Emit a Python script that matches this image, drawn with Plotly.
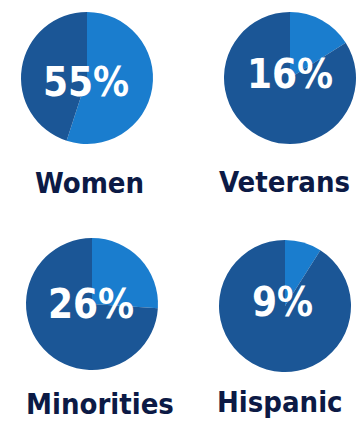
import plotly.graph_objects as go

categories = ["Women", "Veterans", "Minorities", "Hispanic"]
percents = [55, 16, 26, 9]
pct_labels = ["55%", "16%", "26%", "9%"]

LIGHT = "#1a7dce"
DARK = "#1b5696"
NAVY = "#0c1a45"
W, H = 360, 423
FONT = "DejaVu Sans Condensed, Liberation Sans Narrow, Roboto, sans-serif"

# pie centers and radius in pixels (layout)
centers = [(87, 78), (290, 78), (92, 304), (285, 306)]
R = 66
text_centers = [(86, 82), (290, 74), (91, 304), (282, 302)]
label_centers = [(89, 183), (284, 182), (100, 404), (280, 402)]

fig = go.Figure()
for i, (cat, p) in enumerate(zip(categories, percents)):
    cx, cy = centers[i]
    fig.add_trace(go.Pie(
        values=[p, 100 - p],
        labels=[cat, "Other"],
        sort=False,
        direction="clockwise",
        rotation=0,
        marker=dict(colors=[LIGHT, DARK], line=dict(width=0)),
        textinfo="none",
        hoverinfo="skip",
        showlegend=False,
        domain=dict(x=[(cx - R) / W, (cx + R) / W],
                    y=[(H - cy - R) / H, (H - cy + R) / H]),
    ))
    tx, ty = text_centers[i]
    fig.add_annotation(text=pct_labels[i], x=tx / W, y=1 - ty / H,
                       xref="paper", yref="paper", showarrow=False,
                       xanchor="center", yanchor="middle",
                       font=dict(family=FONT, size=40, color="white", weight="bold"))
    lx, ly = label_centers[i]
    fig.add_annotation(text=cat, x=lx / W, y=1 - ly / H,
                       xref="paper", yref="paper", showarrow=False,
                       xanchor="center", yanchor="middle",
                       font=dict(family=FONT, size=29, color=NAVY, weight="bold"))

fig.update_layout(width=W, height=H, margin=dict(l=0, r=0, t=0, b=0),
                  paper_bgcolor="white", plot_bgcolor="white")
fig.write_html("out.html")
